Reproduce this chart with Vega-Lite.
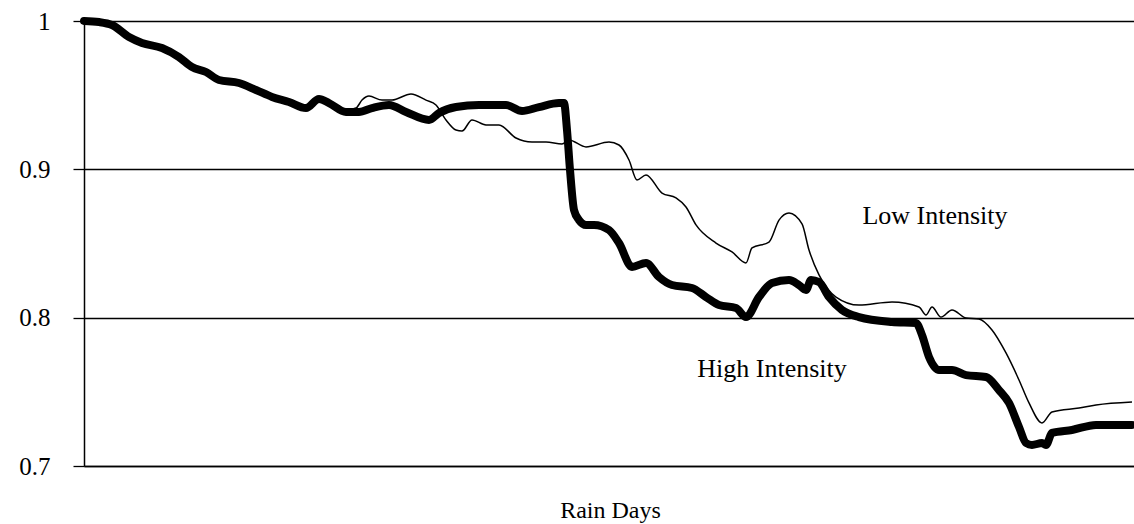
{
  "$schema": "https://vega.github.io/schema/vega-lite/v6.json",
  "width": 1050,
  "height": 445,
  "autosize": {"type": "none"},
  "padding": {"left": 84, "top": 21, "right": 0, "bottom": 58},
  "background": "white",
  "config": {"view": {"stroke": null}, "font": "Liberation Serif"},
  "datasets": {
    "curves": [
      {"series": "High", "day": 0, "value": 1.0},
      {"series": "High", "day": 15, "value": 0.9993},
      {"series": "High", "day": 28, "value": 0.9973},
      {"series": "High", "day": 45, "value": 0.9892},
      {"series": "High", "day": 58, "value": 0.9852},
      {"series": "High", "day": 78, "value": 0.9818},
      {"series": "High", "day": 95, "value": 0.9757},
      {"series": "High", "day": 108, "value": 0.969},
      {"series": "High", "day": 122, "value": 0.9656},
      {"series": "High", "day": 135, "value": 0.9602},
      {"series": "High", "day": 155, "value": 0.9582},
      {"series": "High", "day": 172, "value": 0.9535},
      {"series": "High", "day": 188, "value": 0.9488},
      {"series": "High", "day": 205, "value": 0.9454},
      {"series": "High", "day": 222, "value": 0.9413},
      {"series": "High", "day": 235, "value": 0.9474},
      {"series": "High", "day": 245, "value": 0.9447},
      {"series": "High", "day": 262, "value": 0.9387},
      {"series": "High", "day": 275, "value": 0.9387},
      {"series": "High", "day": 288, "value": 0.9413},
      {"series": "High", "day": 305, "value": 0.9434},
      {"series": "High", "day": 322, "value": 0.9387},
      {"series": "High", "day": 345, "value": 0.9333},
      {"series": "High", "day": 355, "value": 0.938},
      {"series": "High", "day": 372, "value": 0.942},
      {"series": "High", "day": 395, "value": 0.9434},
      {"series": "High", "day": 422, "value": 0.9434},
      {"series": "High", "day": 438, "value": 0.9393},
      {"series": "High", "day": 455, "value": 0.942},
      {"series": "High", "day": 475, "value": 0.9447},
      {"series": "High", "day": 480, "value": 0.9447},
      {"series": "High", "day": 483, "value": 0.9265},
      {"series": "High", "day": 486, "value": 0.8996},
      {"series": "High", "day": 490, "value": 0.8726},
      {"series": "High", "day": 495, "value": 0.8658},
      {"series": "High", "day": 502, "value": 0.8625},
      {"series": "High", "day": 510, "value": 0.8625},
      {"series": "High", "day": 525, "value": 0.8591},
      {"series": "High", "day": 535, "value": 0.8503},
      {"series": "High", "day": 548, "value": 0.8342},
      {"series": "High", "day": 562, "value": 0.8369},
      {"series": "High", "day": 575, "value": 0.8274},
      {"series": "High", "day": 588, "value": 0.822},
      {"series": "High", "day": 608, "value": 0.82},
      {"series": "High", "day": 622, "value": 0.8139},
      {"series": "High", "day": 635, "value": 0.8085},
      {"series": "High", "day": 652, "value": 0.8065},
      {"series": "High", "day": 662, "value": 0.8004},
      {"series": "High", "day": 675, "value": 0.8139},
      {"series": "High", "day": 688, "value": 0.8234},
      {"series": "High", "day": 705, "value": 0.8254},
      {"series": "High", "day": 715, "value": 0.822},
      {"series": "High", "day": 722, "value": 0.8187},
      {"series": "High", "day": 727, "value": 0.8254},
      {"series": "High", "day": 735, "value": 0.824},
      {"series": "High", "day": 745, "value": 0.8139},
      {"series": "High", "day": 758, "value": 0.8052},
      {"series": "High", "day": 775, "value": 0.8004},
      {"series": "High", "day": 808, "value": 0.7971},
      {"series": "High", "day": 832, "value": 0.7964},
      {"series": "High", "day": 838, "value": 0.7883},
      {"series": "High", "day": 845, "value": 0.7735},
      {"series": "High", "day": 855, "value": 0.7647},
      {"series": "High", "day": 868, "value": 0.7647},
      {"series": "High", "day": 882, "value": 0.7613},
      {"series": "High", "day": 902, "value": 0.76},
      {"series": "High", "day": 915, "value": 0.7512},
      {"series": "High", "day": 925, "value": 0.7425},
      {"series": "High", "day": 935, "value": 0.7263},
      {"series": "High", "day": 942, "value": 0.7155},
      {"series": "High", "day": 948, "value": 0.7142},
      {"series": "High", "day": 958, "value": 0.7155},
      {"series": "High", "day": 962, "value": 0.7142},
      {"series": "High", "day": 968, "value": 0.7223},
      {"series": "High", "day": 988, "value": 0.7243},
      {"series": "High", "day": 1012, "value": 0.7277},
      {"series": "High", "day": 1048, "value": 0.7277},

      {"series": "Low", "day": 0, "value": 1.0},
      {"series": "Low", "day": 15, "value": 0.9993},
      {"series": "Low", "day": 28, "value": 0.9973},
      {"series": "Low", "day": 45, "value": 0.9892},
      {"series": "Low", "day": 58, "value": 0.9852},
      {"series": "Low", "day": 78, "value": 0.9818},
      {"series": "Low", "day": 95, "value": 0.9757},
      {"series": "Low", "day": 108, "value": 0.969},
      {"series": "Low", "day": 122, "value": 0.9656},
      {"series": "Low", "day": 135, "value": 0.9602},
      {"series": "Low", "day": 155, "value": 0.9582},
      {"series": "Low", "day": 172, "value": 0.9535},
      {"series": "Low", "day": 188, "value": 0.9488},
      {"series": "Low", "day": 205, "value": 0.9454},
      {"series": "Low", "day": 222, "value": 0.9413},
      {"series": "Low", "day": 235, "value": 0.9474},
      {"series": "Low", "day": 245, "value": 0.9447},
      {"series": "Low", "day": 262, "value": 0.94},
      {"series": "Low", "day": 272, "value": 0.9413},
      {"series": "Low", "day": 278, "value": 0.9467},
      {"series": "Low", "day": 285, "value": 0.9494},
      {"series": "Low", "day": 298, "value": 0.9467},
      {"series": "Low", "day": 308, "value": 0.9467},
      {"series": "Low", "day": 327, "value": 0.9508},
      {"series": "Low", "day": 342, "value": 0.9467},
      {"series": "Low", "day": 352, "value": 0.9434},
      {"series": "Low", "day": 362, "value": 0.9333},
      {"series": "Low", "day": 372, "value": 0.9265},
      {"series": "Low", "day": 378, "value": 0.9258},
      {"series": "Low", "day": 388, "value": 0.9333},
      {"series": "Low", "day": 402, "value": 0.9299},
      {"series": "Low", "day": 415, "value": 0.9299},
      {"series": "Low", "day": 432, "value": 0.9211},
      {"series": "Low", "day": 448, "value": 0.9184},
      {"series": "Low", "day": 462, "value": 0.9184},
      {"series": "Low", "day": 478, "value": 0.9171},
      {"series": "Low", "day": 485, "value": 0.9198},
      {"series": "Low", "day": 502, "value": 0.9151},
      {"series": "Low", "day": 525, "value": 0.9184},
      {"series": "Low", "day": 535, "value": 0.9164},
      {"series": "Low", "day": 545, "value": 0.9063},
      {"series": "Low", "day": 553, "value": 0.8928},
      {"series": "Low", "day": 562, "value": 0.8962},
      {"series": "Low", "day": 578, "value": 0.884},
      {"series": "Low", "day": 592, "value": 0.8807},
      {"series": "Low", "day": 602, "value": 0.8746},
      {"series": "Low", "day": 612, "value": 0.8625},
      {"series": "Low", "day": 632, "value": 0.8503},
      {"series": "Low", "day": 648, "value": 0.8443},
      {"series": "Low", "day": 662, "value": 0.8369},
      {"series": "Low", "day": 668, "value": 0.847},
      {"series": "Low", "day": 685, "value": 0.851},
      {"series": "Low", "day": 695, "value": 0.8658},
      {"series": "Low", "day": 705, "value": 0.8706},
      {"series": "Low", "day": 718, "value": 0.8632},
      {"series": "Low", "day": 725, "value": 0.8456},
      {"series": "Low", "day": 735, "value": 0.8288},
      {"series": "Low", "day": 752, "value": 0.8139},
      {"series": "Low", "day": 775, "value": 0.8085},
      {"series": "Low", "day": 808, "value": 0.8106},
      {"series": "Low", "day": 835, "value": 0.8072},
      {"series": "Low", "day": 842, "value": 0.8018},
      {"series": "Low", "day": 848, "value": 0.8072},
      {"series": "Low", "day": 857, "value": 0.8004},
      {"series": "Low", "day": 868, "value": 0.8052},
      {"series": "Low", "day": 882, "value": 0.7998},
      {"series": "Low", "day": 895, "value": 0.7991},
      {"series": "Low", "day": 908, "value": 0.7917},
      {"series": "Low", "day": 922, "value": 0.7762},
      {"series": "Low", "day": 935, "value": 0.758},
      {"series": "Low", "day": 945, "value": 0.7425},
      {"series": "Low", "day": 958, "value": 0.729},
      {"series": "Low", "day": 968, "value": 0.7364},
      {"series": "Low", "day": 995, "value": 0.7391},
      {"series": "Low", "day": 1012, "value": 0.7411},
      {"series": "Low", "day": 1048, "value": 0.7431}
    ],
    "labels": [
      {"label": "Low Intensity", "day": 851, "value": 0.8631},
      {"label": "High Intensity", "day": 688, "value": 0.76}
    ]
  },
  "encoding": {
    "x": {
      "field": "day",
      "type": "quantitative",
      "scale": {"domain": [0, 1050], "nice": false, "zero": false},
      "axis": {
        "title": "Rain Days",
        "titleFont": "Liberation Serif",
        "titleFontSize": 24,
        "titleFontWeight": "normal",
        "titleColor": "black",
        "titleBaseline": "alphabetic",
        "titleAlign": "center",
        "titleX": 526,
        "titleY": 51,
        "labels": false,
        "ticks": false,
        "grid": false,
        "domain": true,
        "domainColor": "black",
        "domainWidth": 1.3
      }
    },
    "y": {
      "field": "value",
      "type": "quantitative",
      "scale": {"domain": [0.7, 1.0], "nice": false, "zero": false},
      "axis": {
        "title": null,
        "values": [0.7, 0.8, 0.9, 1.0],
        "format": ".1~f",
        "labelFont": "Liberation Serif",
        "labelFontSize": 25,
        "labelColor": "black",
        "labelPadding": 23,
        "tickSize": 11,
        "tickColor": "black",
        "tickWidth": 1.3,
        "grid": true,
        "gridColor": "black",
        "gridWidth": 1.3,
        "gridOpacity": 1,
        "domain": true,
        "domainColor": "black",
        "domainWidth": 1.5
      }
    }
  },
  "layer": [
    {
      "data": {"name": "curves"},
      "transform": [{"filter": "datum.series === 'Low'"}],
      "mark": {"type": "line", "color": "black", "strokeWidth": 1.5, "interpolate": "monotone"}
    },
    {
      "data": {"name": "curves"},
      "transform": [{"filter": "datum.series === 'High'"}],
      "mark": {"type": "line", "color": "black", "strokeWidth": 8, "strokeCap": "round", "strokeJoin": "round", "interpolate": "monotone"}
    },
    {
      "data": {"name": "labels"},
      "mark": {"type": "text", "font": "Liberation Serif", "fontSize": 26, "color": "black", "align": "center", "baseline": "alphabetic"},
      "encoding": {"text": {"field": "label"}}
    }
  ]
}
